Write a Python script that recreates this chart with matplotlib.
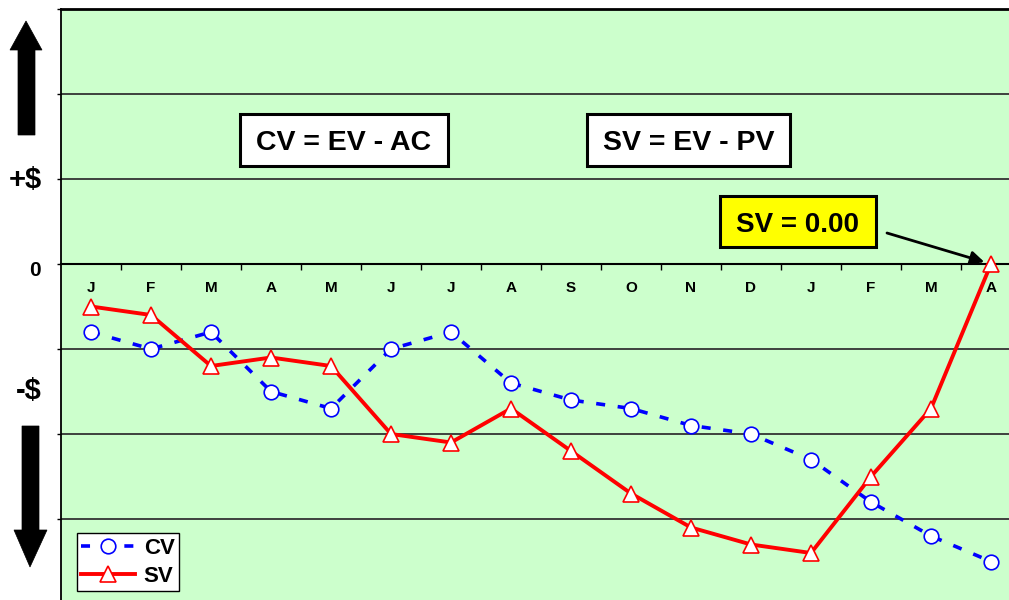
import numpy as np
import matplotlib

matplotlib.use("Agg")
import matplotlib.pyplot as plt
from matplotlib.patches import Polygon, Rectangle

plt.rcParams["font.family"] = ["Liberation Sans", "DejaVu Sans"]
plt.rcParams["font.weight"] = "bold"

months = ["J", "F", "M", "A", "M", "J", "J", "A", "S", "O", "N", "D", "J", "F", "M", "A"]
cv = [-0.8, -1.0, -0.8, -1.5, -1.7, -1.0, -0.8, -1.4, -1.6, -1.7, -1.9, -2.0, -2.3, -2.8, -3.2, -3.5]
sv = [-0.5, -0.6, -1.2, -1.1, -1.2, -2.0, -2.1, -1.7, -2.2, -2.7, -3.1, -3.3, -3.4, -2.5, -1.7, 0.0]

W, H = 1009, 600
BG = "#CCFFCC"

fig = plt.figure(figsize=(W / 100, H / 100), dpi=100)
ax = fig.add_axes([61 / W, 0, 1 - 61 / W, 1 - 9 / H])
ax.set_facecolor(BG)

x = np.arange(len(months))
ax.plot(x, cv, color="#0000FF", lw=2.6, ls=(0, (2.5, 3.5)), marker="o", ms=10.5,
        mfc="white", mec="#0000FF", mew=1.2, label="CV", zorder=3)
ax.plot(x, sv, color="#FF0000", lw=2.8, marker="^", ms=12,
        mfc="white", mec="#FF0000", mew=1.2, label="SV", zorder=4)

ax.set_xlim(-0.5, -0.5 + (W - 61) / 60)
ax.set_ylim(-(H - 264) / 85, 3)

# gridlines every unit, zero axis carries the month labels
ax.set_yticks(range(-3, 4))
ax.set_yticklabels([])
ax.yaxis.grid(True, color="#333333", lw=1.3)
ax.tick_params(axis="y", length=3, width=1, direction="out")
ax.set_xticks(np.arange(0.5, len(months) - 1, 1))
ax.set_xticklabels([])
ax.tick_params(axis="x", which="major", length=4, width=1, direction="out", color="black")
ax.set_xticks(x, months, minor=True)
ax.tick_params(axis="x", which="minor", length=0, pad=12, labelsize=11)
for lab in ax.get_xticklabels(minor=True):
    lab.set_fontweight("bold")

ax.spines["bottom"].set_position(("data", 0))
ax.spines["bottom"].set_linewidth(1.5)
ax.spines["top"].set_linewidth(2)
ax.spines["left"].set_linewidth(1.3)
ax.spines["right"].set_visible(False)
ax.set_axisbelow(True)

leg = ax.legend(loc="lower left", bbox_to_anchor=((77 - 61) / (W - 61), 9 / (H - 9)),
                fontsize=16, frameon=True, fancybox=False, framealpha=1,
                edgecolor="black", handlelength=2.4, handletextpad=0.4,
                borderpad=0.2, labelspacing=0.3, borderaxespad=0)
leg.get_frame().set_linewidth(1)
for t in leg.get_texts():
    t.set_fontweight("bold")


def fx(px):
    return px / W


def fy(py):
    return 1 - py / H


def box(x0, y0, x1, y1, text, face, size):
    fig.add_artist(Rectangle((fx(x0), fy(y1)), fx(x1) - fx(x0), fy(y0) - fy(y1),
                             transform=fig.transFigure, fc=face, ec="black", lw=2.2, zorder=6))
    fig.text(fx((x0 + x1) / 2), fy((y0 + y1) / 2), text, ha="center", va="center_baseline",
             fontsize=size, fontweight="bold", zorder=7)


box(240, 114, 448, 166, "CV = EV - AC", "white", 20.5)
box(587, 114, 790, 166, "SV = EV - PV", "white", 20.5)
box(720, 196, 876, 247, "SV = 0.00", "#FFFF00", 20)

ax.annotate("", xy=(x[-1], sv[-1]), xytext=(887, H - 233), textcoords="figure pixels",
            arrowprops=dict(arrowstyle="-|>", color="black", lw=2, mutation_scale=20,
                            shrinkA=0, shrinkB=5), zorder=8)

# side arrows and labels
up = [(26, 21), (42, 50), (35, 50), (35, 135), (18, 135), (18, 50), (10, 50)]
down = [(22, 426), (39, 426), (39, 530), (47, 530), (30, 567), (14, 530), (22, 530)]
for pts in (up, down):
    fig.add_artist(Polygon([(fx(a), fy(b)) for a, b in pts], closed=True,
                           transform=fig.transFigure, fc="black", ec="black", lw=0.5))

fig.text(fx(25), fy(180), "+$", ha="center", va="center", fontsize=21, fontweight="bold")
fig.text(fx(35), fy(271), "0", ha="center", va="center", fontsize=15, fontweight="bold")
fig.text(fx(29), fy(391), "-$", ha="center", va="center", fontsize=21, fontweight="bold")

fig.savefig("out.png", dpi=100, facecolor="white")
